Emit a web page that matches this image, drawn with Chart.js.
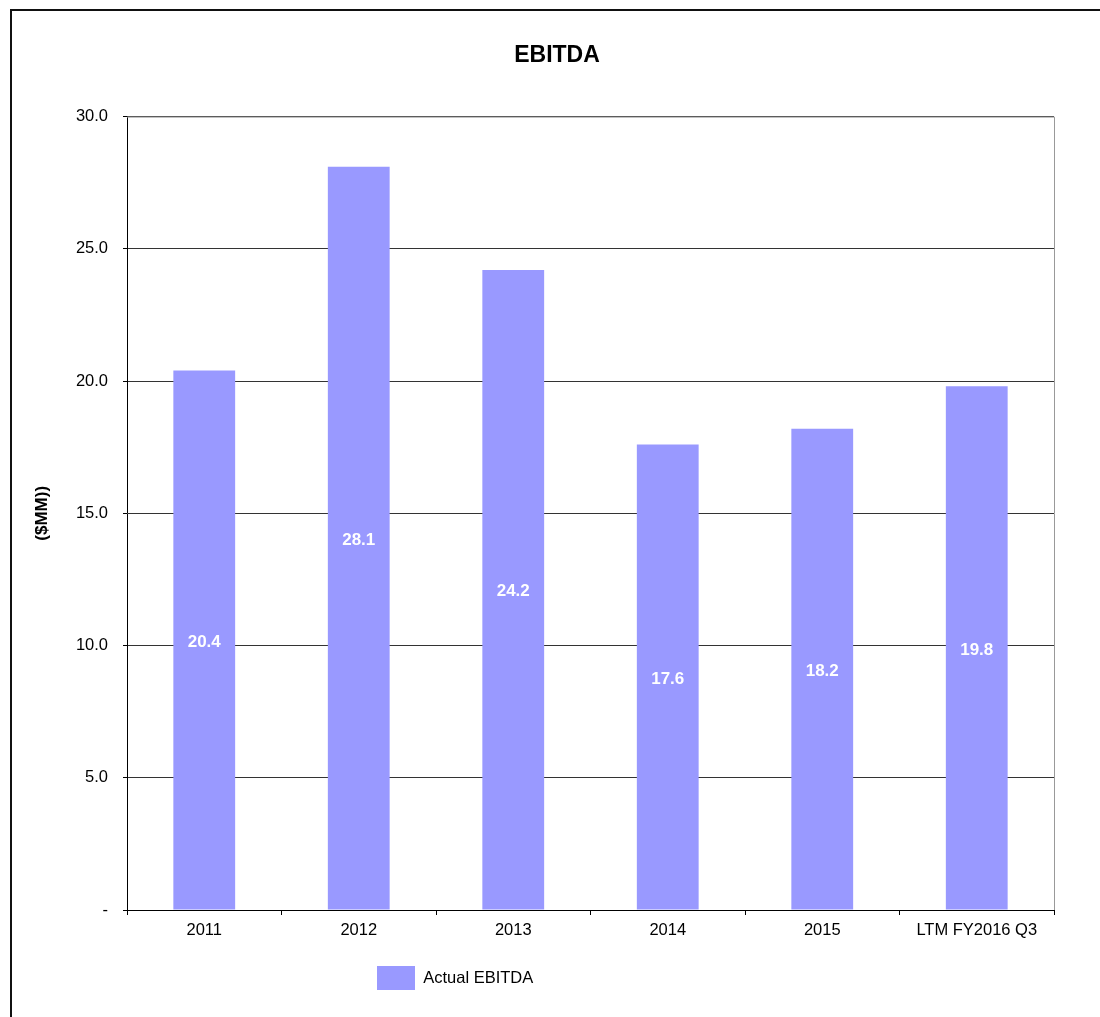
<!DOCTYPE html>
<html>
<head>
<meta charset="utf-8">
<title>EBITDA</title>
<script src="https://cdn.jsdelivr.net/npm/chart.js@4.4.1/dist/chart.umd.min.js"></script>
<style>
  html, body { margin: 0; padding: 0; background: #fff; overflow: hidden; }
  #frame { position: absolute; left: 10px; top: 9px; width: 1200px; height: 1200px; border: 2px solid #111; }
  #wrap { position: absolute; left: 0; top: 0; width: 1100px; height: 1017px; }
</style>
</head>
<body>
<div id="frame"></div>
<div id="wrap"><canvas id="chart"></canvas></div>
<script>
// data
const categories = ['2011', '2012', '2013', '2014', '2015', 'LTM FY2016 Q3'];
const ebitda = [20.4, 28.1, 24.2, 17.6, 18.2, 19.8];
const yTicks = [0, 5, 10, 15, 20, 25, 30];

const BAR_COLOR = '#9999FF';
const FONT = "'Liberation Sans', Arial, sans-serif";

Chart.defaults.font.family = FONT;
Chart.defaults.font.size = 16.5;
Chart.defaults.color = '#000';

// value labels in the middle of each bar
const barLabels = {
  id: 'barLabels',
  afterDatasetsDraw(chart) {
    const { ctx } = chart;
    const meta = chart.getDatasetMeta(0);
    ctx.save();
    ctx.fillStyle = '#fff';
    ctx.font = `bold 17px ${FONT}`;
    ctx.textAlign = 'center';
    ctx.textBaseline = 'middle';
    meta.data.forEach((bar, i) => {
      ctx.fillText(ebitda[i].toFixed(1), bar.x, (bar.y + bar.base) / 2 + 2);
    });
    ctx.restore();
  },
};

// grey top/right edge of the plot area
const plotFrame = {
  id: 'plotFrame',
  beforeDatasetsDraw(chart) {
    const { ctx, chartArea: a } = chart;
    ctx.save();
    ctx.strokeStyle = '#999';
    ctx.lineWidth = 1;
    ctx.beginPath();
    ctx.moveTo(a.left, a.top + 0.5);
    ctx.lineTo(a.right + 0.5, a.top + 0.5);
    ctx.lineTo(a.right + 0.5, a.bottom);
    ctx.stroke();
    ctx.restore();
  },
};

// title and legend sit off-centre in the original
const nudge = {
  id: 'nudge',
  beforeDraw(chart) {
    const t = chart.titleBlock;
    if (t) { t.left = 60; t.right = 1054; }
    const lg = chart.legend;
    if (lg) { lg.left = 377 - lg.options.labels.padding; lg.right = 1054; }
  },
};

new Chart(document.getElementById('chart'), {
  type: 'bar',
  data: {
    labels: categories,
    datasets: [{
      label: 'Actual EBITDA',
      data: ebitda,
      backgroundColor: BAR_COLOR,
      borderWidth: 0,
      barPercentage: 0.4,
      categoryPercentage: 1,
    }],
  },
  options: {
    responsive: true,
    maintainAspectRatio: false,
    animation: false,
    layout: { padding: { left: 20, right: 46, top: 0, bottom: 17 } },
    plugins: {
      title: {
        display: true,
        text: 'EBITDA',
        color: '#000',
        font: { size: 23, weight: 'bold' },
        padding: { top: 42, bottom: 47 },
      },
      legend: {
        position: 'bottom',
        align: 'start',
        labels: { boxWidth: 38, boxHeight: 24, padding: 10, color: '#000', font: { size: 16.5 } },
      },
      tooltip: { enabled: false },
    },
    scales: {
      x: {
        offset: true,
        grid: { display: true, drawOnChartArea: false, drawTicks: true, tickLength: 5, color: '#000', offset: true },
        border: { color: '#000', width: 1 },
        ticks: { padding: 6, color: '#000', maxRotation: 0 },
        afterFit: s => { s.height = 46; },
      },
      y: {
        min: 0,
        max: 30,
        afterBuildTicks: s => { s.ticks = yTicks.map(v => ({ value: v })); },
        grid: { color: '#333', tickColor: '#000', tickLength: 4 },
        border: { color: '#000', width: 1 },
        ticks: {
          padding: 15,
          color: '#000',
          callback: v => (v === 0 ? '-' : v.toFixed(1)),
        },
        title: {
          display: true,
          text: '($MM))',
          color: '#000',
          font: { size: 17, weight: 'bold' },
          padding: { top: 12, bottom: 0 },
        },
        afterFit: s => { s.width = 107; },
      },
    },
  },
  plugins: [barLabels, plotFrame, nudge],
});
</script>
</body>
</html>
